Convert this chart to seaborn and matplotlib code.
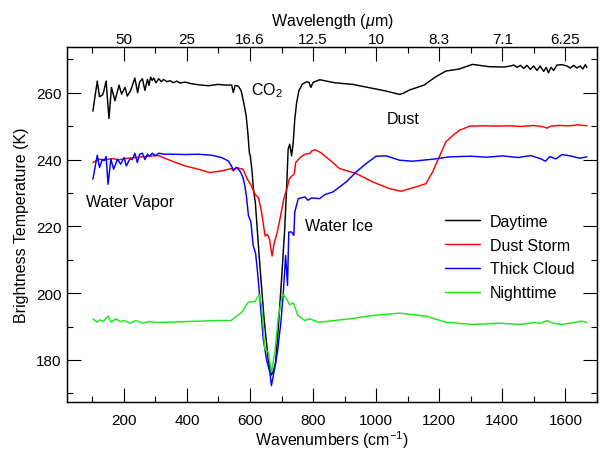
import matplotlib
matplotlib.use("Agg")
import matplotlib.pyplot as plt
import numpy as np
import pandas as pd
import seaborn as sns
from matplotlib.ticker import MultipleLocator, FixedLocator

# ---------------- data ----------------
series_names = ["Daytime", "Dust Storm", "Thick Cloud", "Nighttime"]
series_colors = ["#000000", "#ff0000", "#0000ff", "#1ee61e"]

day_wn = [102, 116, 123, 132, 136, 144, 153, 161, 172, 185, 193, 204, 211, 222, 225, 235,
          244, 250, 259, 267, 275, 280, 285, 290, 295, 302, 311, 319, 326, 337, 347, 357,
          368, 378, 394, 415, 436, 468, 499, 521, 542, 547, 553, 563, 572, 580, 588, 594,
          598, 601, 606, 611, 617, 630, 645, 658, 668, 675, 681, 690, 700, 710, 716, 721,
          726, 732, 737, 742, 748, 755, 766, 780, 787, 793, 800, 821, 868, 926, 979, 1032,
          1074, 1085, 1105, 1152, 1189, 1221, 1263, 1305, 1358, 1405, 1426, 1436, 1447,
          1457, 1468, 1478, 1489, 1499, 1510, 1520, 1531, 1539, 1546, 1554, 1563, 1573,
          1589, 1605, 1615, 1626, 1636, 1647, 1655, 1663, 1668]
day_t = [254.5, 263.5, 258.8, 259.3, 260.2, 263.5, 252.3, 261.6, 257.6, 262.3, 259.6, 261.6,
         259.0, 260.7, 261.6, 264.4, 260.0, 263.2, 264.2, 260.7, 264.0, 262.2, 264.7, 263.7,
         264.4, 263.0, 264.2, 263.3, 264.0, 263.3, 263.6, 263.0, 263.5, 262.9, 263.2, 262.7,
         262.4, 262.1, 262.5, 262.3, 262.3, 260.1, 262.2, 262.0, 260.6, 257.1, 253.1, 247.1,
         242.1, 241.1, 237.1, 231.1, 227.1, 210.0, 192.0, 180.0, 175.5, 177.0, 179.0, 190.0,
         204.0, 219.0, 231.1, 243.1, 244.6, 241.1, 245.1, 252.1, 257.1, 260.6, 262.6, 263.3,
         263.1, 261.6, 263.1, 263.9, 263.0, 262.5, 261.5, 260.5, 259.5, 259.8, 260.8, 262.3,
         264.8, 266.5, 267.1, 268.5, 267.8, 267.7, 268.0, 268.3, 267.6, 268.2, 267.3, 268.2,
         267.0, 268.0, 266.7, 268.0, 266.4, 267.6, 266.0, 267.6, 266.7, 268.3, 268.4, 268.0,
         267.4, 268.2, 267.4, 268.0, 267.1, 268.4, 267.6]

dust_wn = [102, 121, 142, 163, 184, 205, 236, 267, 309, 325, 351, 394, 436, 473, 510, 541,
           547, 557, 578, 591, 602, 616, 627, 637, 648, 655, 662, 670, 677, 686, 696, 707,
           718, 725, 733, 740, 745, 759, 775, 791, 796, 807, 824, 850, 884, 937, 989, 1042,
           1079, 1126, 1158, 1179, 1200, 1221, 1244, 1265, 1297, 1339, 1380, 1423, 1460,
           1500, 1530, 1542, 1554, 1580, 1610, 1639, 1668]
dust_t = [239.1, 240.1, 239.9, 240.3, 239.9, 240.3, 240.6, 240.9, 241.2, 240.6, 239.6, 238.1,
          237.1, 236.1, 236.6, 237.3, 236.6, 237.6, 237.1, 234.2, 232.6, 229.6, 228.6, 224.1,
          217.1, 217.6, 216.1, 211.1, 215.1, 218.1, 222.6, 228.1, 231.6, 234.3, 235.1, 235.6,
          239.1, 240.6, 241.6, 241.9, 242.6, 242.9, 242.1, 240.1, 237.3, 235.8, 233.3, 231.3,
          230.5, 231.8, 232.8, 236.3, 240.8, 245.3, 247.3, 248.8, 250.0, 250.1, 250.0, 250.1,
          249.9, 250.2, 249.8, 249.4, 250.0, 250.2, 250.1, 250.4, 250.1]

cloud_wn = [102, 116, 123, 132, 138, 144, 150, 159, 168, 180, 190, 201, 208, 219, 227, 235,
            243, 250, 259, 267, 275, 282, 290, 301, 311, 327, 354, 394, 436, 478, 510, 531,
            541, 547, 557, 568, 578, 584, 589, 595, 603, 610, 618, 626, 635, 642, 653, 663,
            668, 677, 687, 698, 705, 713, 719, 723, 732, 739, 742, 753, 774, 784, 795, 821,
            837, 863, 905, 937, 968, 1000, 1032, 1074, 1116, 1179, 1232, 1300, 1350, 1400,
            1450, 1490, 1520, 1537, 1550, 1570, 1589, 1620, 1645, 1668]
cloud_t = [234.1, 241.3, 237.6, 240.0, 239.7, 240.9, 232.6, 240.1, 237.1, 240.1, 238.6, 240.6,
           238.1, 240.1, 240.0, 241.9, 239.1, 241.6, 241.9, 240.0, 241.6, 241.0, 241.9, 241.2,
           241.9, 241.6, 241.6, 241.5, 241.6, 241.3, 240.6, 239.6, 238.1, 236.9, 237.6, 236.6,
           234.6, 232.0, 228.8, 223.3, 221.3, 214.3, 211.8, 204.3, 194.3, 186.3, 179.8, 176.3,
           172.3, 176.8, 182.3, 191.3, 199.3, 211.3, 202.3, 218.3, 218.3, 217.3, 224.3, 228.3,
           228.8, 227.8, 228.5, 228.3, 229.5, 230.3, 233.3, 236.3, 238.8, 241.0, 241.1, 239.8,
           239.5, 240.1, 240.8, 241.0, 240.7, 241.1, 240.6, 241.2, 240.3, 239.5, 240.9, 240.2,
           241.5, 241.0, 240.4, 240.8]

night_wn = [102, 115, 125, 135, 150, 160, 175, 190, 200, 220, 240, 260, 280, 300, 350, 400,
            500, 540, 547, 574, 582, 595, 616, 629, 637, 647, 658, 668, 679, 689, 703, 716,
            726, 737, 752, 774, 789, 811, 821, 916, 989, 1074, 1158, 1221, 1305, 1389, 1453,
            1500, 1520, 1542, 1560, 1589, 1620, 1652, 1668]
night_t = [192.3, 191.3, 192.0, 191.5, 193.1, 191.3, 192.3, 191.5, 191.8, 191.0, 191.8, 191.0,
           191.5, 191.2, 191.3, 191.5, 191.8, 191.8, 192.3, 194.3, 195.5, 197.3, 197.5, 199.5,
           196.3, 183.3, 182.3, 176.3, 182.3, 192.3, 199.8, 198.3, 196.5, 197.1, 193.3, 191.8,
           192.3, 191.5, 191.3, 192.3, 193.3, 194.0, 193.1, 191.3, 190.6, 191.0, 190.6, 191.2,
           190.9, 191.8, 191.0, 190.6, 191.1, 191.6, 191.2]

top_tick_wn = [200, 400, 600, 800, 1000, 1200, 1400, 1600]
top_tick_labels = ["50", "25", "16.6", "12.5", "10", "8.3", "7.1", "6.25"]

annotations = [("CO$_2$", 603, 260.8), ("Dust", 1032, 252.3),
               ("Water Vapor", 79, 227.3), ("Water Ice", 774, 220.3)]

# ---------------- styling ----------------
sns.set_theme(style="ticks", rc={"axes.edgecolor": "black", "text.color": "black",
                                 "axes.labelcolor": "black", "xtick.color": "black",
                                 "ytick.color": "black"})
plt.rcParams['font.family'] = ['Liberation Sans', 'DejaVu Sans']
plt.rcParams['mathtext.fontset'] = 'custom'
plt.rcParams['mathtext.rm'] = 'Liberation Sans'
plt.rcParams['mathtext.it'] = 'Liberation Sans:italic'
plt.rcParams['mathtext.bf'] = 'Liberation Sans:bold'

FS = 11.5

frames = []
for name, wn, t in [(series_names[0], day_wn, day_t), (series_names[1], dust_wn, dust_t),
                    (series_names[2], cloud_wn, cloud_t), (series_names[3], night_wn, night_t)]:
    frames.append(pd.DataFrame({"wn": wn, "T": t, "series": name}))
df = pd.concat(frames, ignore_index=True)

fig = plt.figure(figsize=(6.13, 4.52), dpi=100)
ax = fig.add_axes([67 / 613, 1 - 403 / 452, 530 / 613, 355 / 452])

sns.lineplot(data=df, x="wn", y="T", hue="series", hue_order=series_names,
             palette=dict(zip(series_names, series_colors)), estimator=None,
             sort=False, linewidth=1.05, ax=ax)

ax.set_xlim(20, 1700)
ax.set_ylim(167.4, 273.7)
ax.xaxis.set_major_locator(MultipleLocator(200))
ax.xaxis.set_minor_locator(MultipleLocator(100))
ax.yaxis.set_major_locator(MultipleLocator(20))
ax.yaxis.set_minor_locator(MultipleLocator(10))
ax.tick_params(which="both", direction="in", right=True, top=False, width=0.8)
ax.tick_params(which="major", length=10, labelsize=FS - 0.5)
ax.tick_params(which="minor", length=4)
ax.tick_params(axis="x", which="major", pad=8)
ax.tick_params(axis="y", which="major", pad=4)
for s in ax.spines.values():
    s.set_linewidth(0.9)

ax.set_xlabel("Wavenumbers (cm$^{-1}$)", fontsize=FS, labelpad=1)
ax.set_ylabel("Brightness Temperature (K)", fontsize=FS, labelpad=5)

ax2 = ax.twiny()
ax2.set_xlim(ax.get_xlim())
ax2.xaxis.set_major_locator(FixedLocator(top_tick_wn))
ax2.set_xticklabels(top_tick_labels)
ax2.xaxis.set_minor_locator(MultipleLocator(100))
ax2.tick_params(which="both", direction="in", width=0.8)
ax2.tick_params(which="major", length=10, labelsize=FS - 0.5, pad=0.5)
ax2.tick_params(which="minor", length=4)
ax2.set_xlabel("Wavelength ($\\mu$m)", fontsize=FS, labelpad=5)
for s in ax2.spines.values():
    s.set_linewidth(0.9)

for txt, x, y in annotations:
    ax.text(x, y, txt, fontsize=FS, ha="left", va="center")

handles, labels = ax.get_legend_handles_labels()
ax.legend(handles, labels, loc="upper left", bbox_to_anchor=(0.713, 0.53),
          frameon=False, fontsize=FS, handlelength=2.2, handletextpad=0.6,
          labelspacing=0.55, borderpad=0, borderaxespad=0)

fig.savefig("out.png", dpi=100)
